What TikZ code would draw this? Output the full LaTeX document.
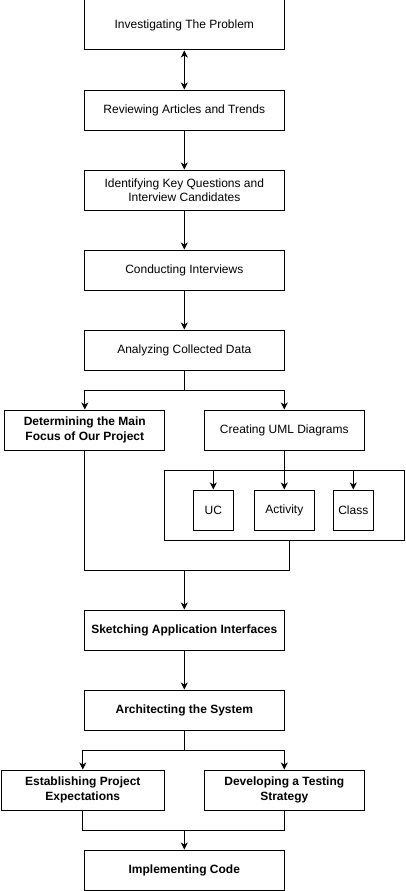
\documentclass[tikz,border=0pt]{standalone}
\usepackage{fontspec}
\setmainfont{Liberation Sans}
\usetikzlibrary{arrows.meta}
\begin{document}
\begin{tikzpicture}[x=1pt,y=-1pt,
  >={Stealth[length=7pt,width=7pt,inset=2pt]},
  box/.style={draw,line width=1pt,inner sep=0pt,align=center,font=\fontsize{12}{14.5}\selectfont},
  bbox/.style={box,font=\fontsize{12}{14.5}\selectfont\bfseries},
  conn/.style={line width=1pt,->},
  line/.style={line width=1pt}]
\useasboundingbox (0,0) rectangle (405,891);
\node[box,minimum width=200pt,minimum height=50pt] (b1) at (184.3,25) {Investigating The Problem};
\node[box,minimum width=200pt,minimum height=40pt] (b2) at (184.3,110) {Reviewing Articles and Trends};
\node[box,minimum width=200pt,minimum height=40pt] (b3) at (184.3,190) {Identifying Key Questions and\\Interview Candidates};
\node[box,minimum width=200pt,minimum height=40pt] (b4) at (184.3,270) {Conducting Interviews};
\node[box,minimum width=200pt,minimum height=40pt] (b5) at (184.3,350) {Analyzing Collected Data};
\node[bbox,minimum width=160pt,minimum height=40pt] (det) at (84.8,430) {Determining the Main\\Focus of Our Project};
\node[box,minimum width=160pt,minimum height=40pt] (uml) at (284.3,430) {Creating UML Diagrams};
\node[box,minimum width=240pt,minimum height=70pt] (cont) at (284.3,505) {};
\node[box,minimum width=40pt,minimum height=40pt] (uc) at (213.3,510) {UC};
\node[box,minimum width=60pt,minimum height=40pt] (act) at (284.3,510) {Activity};
\node[box,minimum width=40pt,minimum height=40pt] (cls) at (353.3,510) {Class};
\node[bbox,minimum width=200pt,minimum height=40pt] (sk) at (184.3,630) {Sketching Application Interfaces};
\node[bbox,minimum width=200pt,minimum height=40pt] (arch) at (184.3,710) {Architecting the System};
\node[bbox,minimum width=163pt,minimum height=40pt] (est) at (82.8,790) {Establishing Project\\Expectations};
\node[bbox,minimum width=160pt,minimum height=40pt] (dev) at (284.3,790) {Developing a Testing\\Strategy};
\node[bbox,minimum width=200pt,minimum height=40pt] (impl) at (184.3,870) {Implementing Code};
\draw[conn,<->] (b1) -- (b2);
\draw[conn] (b2) -- (b3);
\draw[conn] (b3) -- (b4);
\draw[conn] (b4) -- (b5);
\coordinate (s1) at (184.3,390);
\draw[conn] (b5.south) -- (s1) -| (det.north);
\draw[conn] (s1) -| (uml.north);
\draw[conn] (uml.south) -- (act.north);
\draw[conn] (uc.north |- cont.north) -- (uc.north);
\draw[conn] (cls.north |- cont.north) -- (cls.north);
\coordinate (m1) at (184.3,570);
\coordinate (cx) at (289.3,540);
\draw[line] (det.south) |- (m1);
\draw[line] (cx) |- (m1);
\draw[conn] (m1) -- (sk.north);
\draw[conn] (sk) -- (arch);
\coordinate (s2) at (184.3,750);
\draw[conn] (arch.south) -- (s2) -| (est.north);
\draw[conn] (s2) -| (dev.north);
\coordinate (m2) at (184.3,830);
\draw[line] (est.south) |- (m2);
\draw[line] (dev.south) |- (m2);
\draw[conn] (m2) -- (impl.north);
\end{tikzpicture}
\end{document}
